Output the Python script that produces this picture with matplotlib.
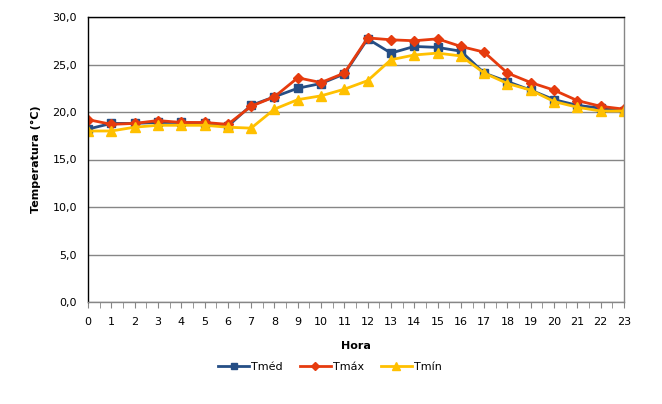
import matplotlib.pyplot as plt
from matplotlib.ticker import FuncFormatter, MultipleLocator

# Hourly temperatures (°C)
horas = list(range(24))
t_med = [18.2, 18.8, 18.8, 18.9, 18.9, 18.8, 18.5, 20.7, 21.6, 22.5, 23.0, 24.0,
         27.7, 26.2, 26.9, 26.8, 26.4, 24.1, 23.2, 22.3, 21.3, 20.7, 20.4, 20.1]
t_max = [19.2, 18.7, 18.8, 19.1, 18.9, 18.9, 18.7, 20.6, 21.6, 23.6, 23.1, 24.1,
         27.8, 27.6, 27.5, 27.7, 26.9, 26.3, 24.1, 23.1, 22.3, 21.2, 20.6, 20.3]
t_min = [18.0, 18.0, 18.4, 18.6, 18.6, 18.6, 18.4, 18.3, 20.3, 21.3, 21.7, 22.4,
         23.3, 25.5, 26.0, 26.2, 25.9, 24.1, 23.0, 22.3, 21.1, 20.5, 20.1, 20.1]

fig = plt.figure(figsize=(6.62, 4.04), dpi=100)
ax = fig.add_axes([88 / 662, 1 - 302 / 404, (624 - 88) / 662, (302 - 17) / 404])

ax.plot(horas, t_med, color='#254E85', marker='s', markersize=6, lw=2, label='Tméd')
ax.plot(horas, t_max, color='#E63B0E', marker='D', markersize=5.5, lw=2, label='Tmáx')
ax.plot(horas, t_min, color='#FFC000', marker='^', markersize=6.5, lw=2, label='Tmín')

ax.set_xlim(0, 23)
ax.set_ylim(0, 30)
ax.xaxis.set_major_locator(MultipleLocator(1))
ax.xaxis.set_minor_locator(MultipleLocator(0.5))
ax.yaxis.set_major_locator(MultipleLocator(5))
ax.yaxis.set_major_formatter(FuncFormatter(lambda v, p: f'{v:.1f}'.replace('.', ',')))

ax.grid(axis='y', color='#868686', lw=1)
ax.set_axisbelow(True)
ax.spines['left'].set_color('black')
ax.spines['top'].set_color('black')
ax.spines['right'].set_color('#868686')
ax.spines['bottom'].set_color('#868686')
for s in ax.spines.values():
    s.set_linewidth(1)

ax.tick_params(axis='x', which='both', direction='out', length=4, color='#868686',
               labelsize=8, pad=7)
ax.tick_params(axis='y', length=0, labelsize=8, pad=8)

ax.set_xlabel('Hora', fontsize=8, fontweight='bold', labelpad=10)
ax.set_ylabel('Temperatura (°C)', fontsize=8, fontweight='bold', labelpad=8)

fig.legend(loc='center', bbox_to_anchor=(330 / 662, 1 - 367 / 404), ncol=3, frameon=False,
           fontsize=8, handlelength=2.8, columnspacing=1.5, handletextpad=0.2,
           markerscale=0.8)

fig.savefig('out.png', dpi=100)
